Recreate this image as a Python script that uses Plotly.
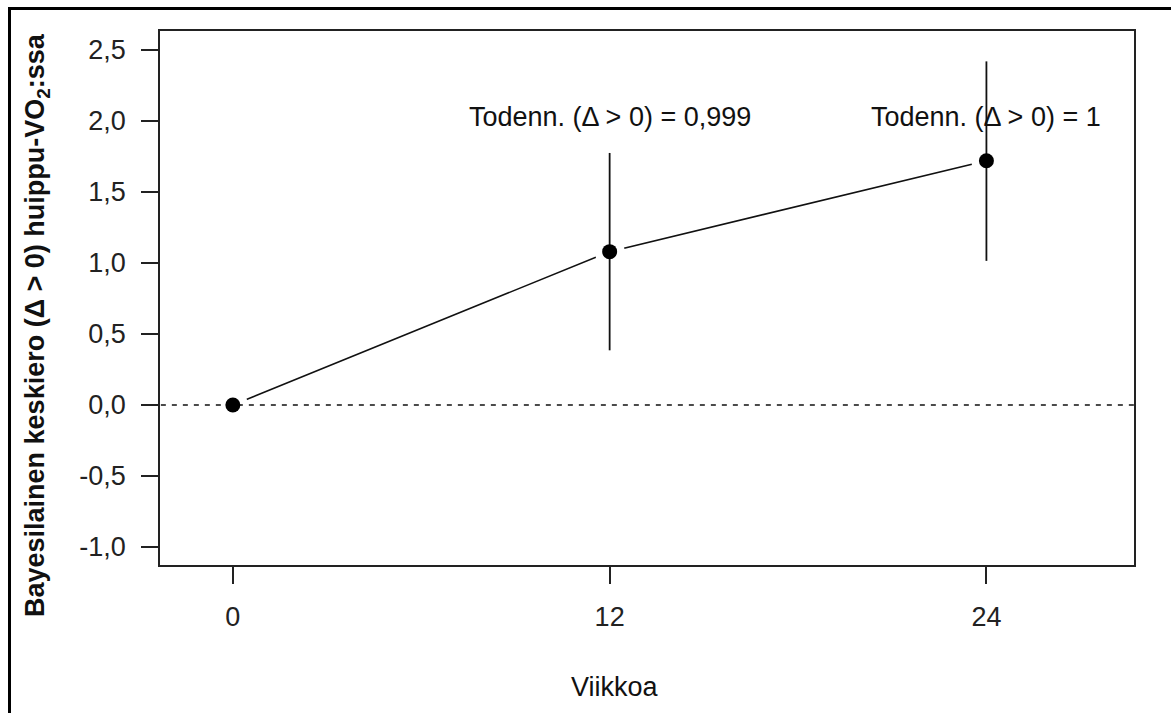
import plotly.graph_objects as go

# Posterior mean difference in peak VO2 by week, with 95% credible intervals
weeks = [0, 12, 24]
mean_diff = [0.0, 1.08, 1.72]
ci_low = [None, 0.385, 1.015]
ci_high = [None, 1.775, 2.42]
prob_labels = [None, "Todenn. (Δ > 0) = 0,999", "Todenn. (Δ > 0) = 1"]
label_y = 2.03

y_tick_vals = [-1.0, -0.5, 0.0, 0.5, 1.0, 1.5, 2.0, 2.5]
y_tick_text = ["-1,0", "-0,5", "0,0", "0,5", "1,0", "1,5", "2,0", "2,5"]
x_tick_vals = [0, 12, 24]
x_tick_text = ["0", "12", "24"]

W, H = 1171, 713
ML, MR, MT, MB = 160, 37, 31, 148
PW, PH = W - ML - MR, H - MT - MB
FONT = "Liberation Sans, Arial, sans-serif"
FS = 27


def px_x(p):
    return (p - ML) / PW


def px_y(p):
    return 1 - (p - MT) / PH


fig = go.Figure()

# connecting line between means
fig.add_trace(go.Scatter(x=weeks, y=mean_diff, mode="lines",
                         line=dict(color="#111", width=1.6),
                         hoverinfo="skip", showlegend=False))
# white halo so the connecting line stops short of each point
fig.add_trace(go.Scatter(x=weeks, y=mean_diff, mode="markers",
                         marker=dict(color="white", size=30, line=dict(width=0)),
                         hoverinfo="skip", showlegend=False))
# zero reference line
fig.add_trace(go.Scatter(x=[-10, 40], y=[0, 0], mode="lines",
                         line=dict(color="#111", width=1.5, dash="5px,6px"),
                         hoverinfo="skip", showlegend=False))
# credible interval segments
ci_x, ci_y = [], []
for w, lo, hi in zip(weeks, ci_low, ci_high):
    if lo is None:
        continue
    ci_x += [w, w, None]
    ci_y += [lo, hi, None]
fig.add_trace(go.Scatter(x=ci_x, y=ci_y, mode="lines",
                         line=dict(color="#111", width=1.8),
                         hoverinfo="skip", showlegend=False))
# mean points
fig.add_trace(go.Scatter(x=weeks, y=mean_diff, mode="markers",
                         marker=dict(color="black", size=15, line=dict(width=0)),
                         showlegend=False))

annotations = []
for w, lab in zip(weeks, prob_labels):
    if lab is None:
        continue
    annotations.append(dict(x=w, y=label_y, xref="x", yref="y", text=lab,
                            showarrow=False, xanchor="center", yanchor="middle",
                            font=dict(family=FONT, size=FS, color="#111")))

annotations.append(dict(x=px_x(37), y=px_y(325), xref="paper", yref="paper",
                        text="<b>Bayesilainen keskiero (Δ > 0) huippu-VO<sub>2</sub>:ssa</b>",
                        textangle=-90, showarrow=False, xanchor="center", yanchor="middle",
                        font=dict(family=FONT, size=FS, color="#111")))
annotations.append(dict(x=px_x(615), y=px_y(687), xref="paper", yref="paper",
                        text="Viikkoa", showarrow=False, xanchor="center", yanchor="middle",
                        font=dict(family=FONT, size=FS, color="#111")))

shapes = [
    dict(type="line", xref="paper", yref="paper", x0=px_x(8), x1=px_x(W + 5),
         y0=px_y(8.5), y1=px_y(8.5), line=dict(color="black", width=3)),
    dict(type="line", xref="paper", yref="paper", x0=px_x(9.5), x1=px_x(9.5),
         y0=px_y(7), y1=px_y(H + 5), line=dict(color="black", width=3)),
]

axis_common = dict(showline=True, mirror=True, linecolor="#222", linewidth=1.6,
                   ticks="outside", ticklen=17, tickwidth=1.6, tickcolor="#222",
                   showgrid=False, zeroline=False,
                   tickfont=dict(family=FONT, size=FS, color="#222"))

fig.update_layout(
    width=W, height=H,
    margin=dict(l=ML, r=MR, t=MT, b=MB),
    paper_bgcolor="white", plot_bgcolor="white",
    xaxis=dict(range=[-2.32, 28.7], tickvals=x_tick_vals, ticktext=x_tick_text,
               ticklabelstandoff=10, **axis_common),
    yaxis=dict(range=[-1.127, 2.634], tickvals=y_tick_vals, ticktext=y_tick_text,
               ticklabelstandoff=10, **axis_common),
    annotations=annotations,
    shapes=shapes,
)

fig.write_html("out.html")
